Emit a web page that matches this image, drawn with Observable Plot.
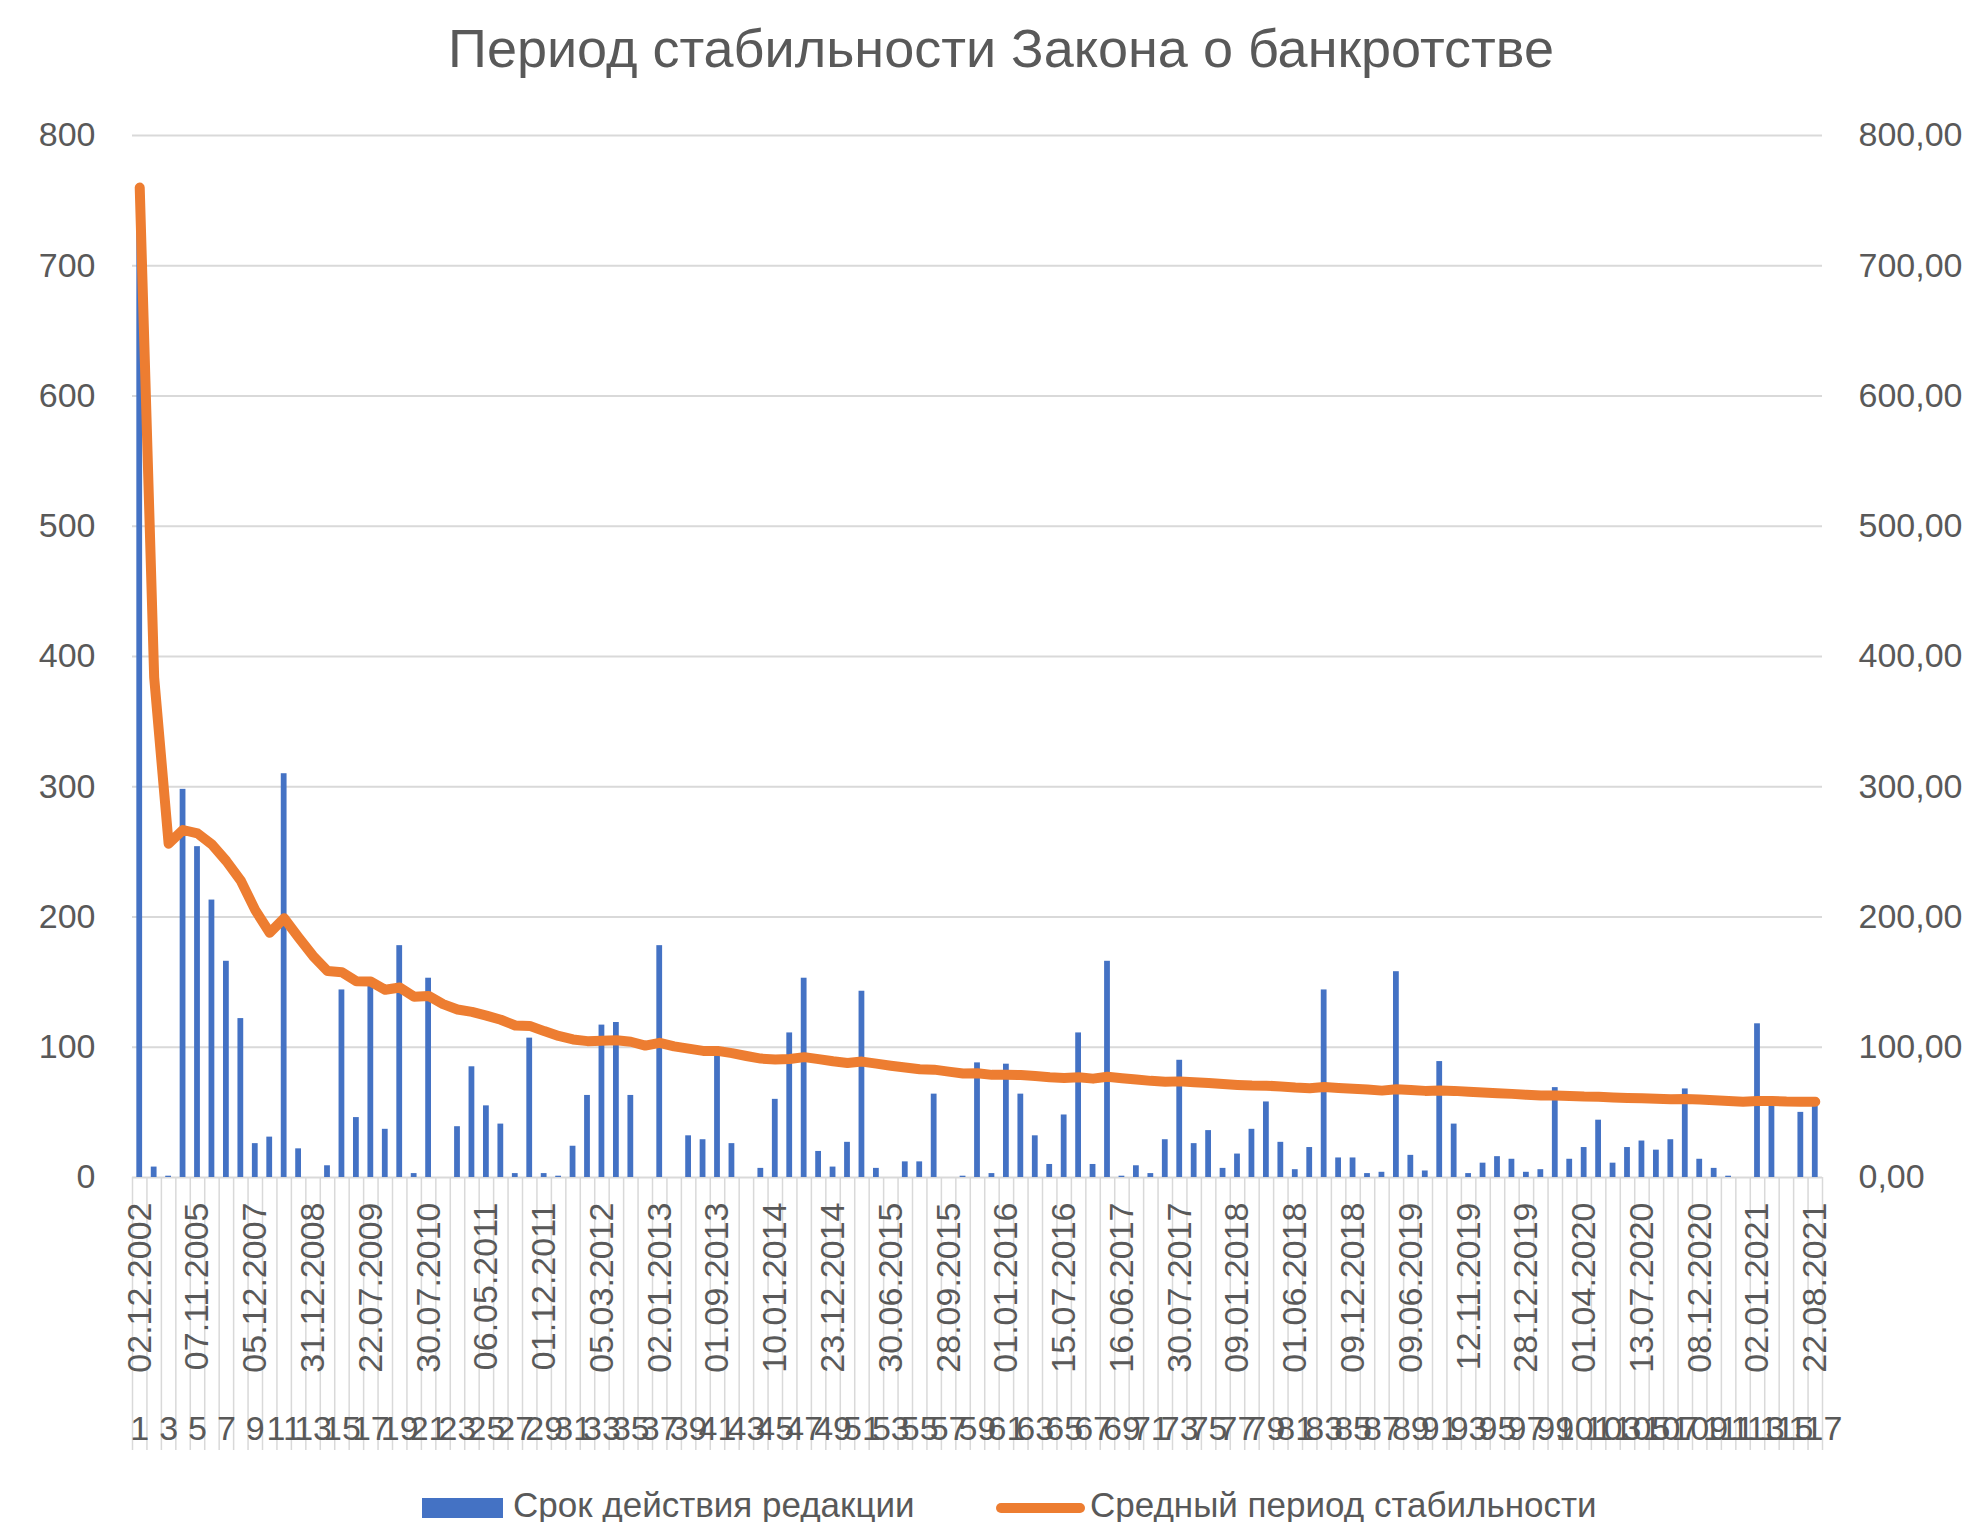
<!DOCTYPE html>
<html><head><meta charset="utf-8">
<script src="https://cdn.jsdelivr.net/npm/d3@7"></script>
<script src="https://cdn.jsdelivr.net/npm/@observablehq/plot@0.6"></script>
<style>
body{margin:0;background:#fff;}
#wrap{position:relative;width:1968px;height:1522px;overflow:hidden;font-family:"Liberation Sans",Arial,sans-serif;}
#chart,#overlay{position:absolute;left:0;top:0;}
</style></head><body>
<div id="wrap"><div id="chart"></div><svg id="overlay" width="1968" height="1522"></svg></div>
<script>
const title = "Период стабильности Закона о банкротстве";
const seriesNames = ["Срок действия редакции", "Средный период стабильности"];
const seriesColors = ["#4472C4", "#ED7D31"];
const categories = d3.range(1, 118);
const durations = [760,8,1,298,254,213,166,122,26,31,
310,22,0,9,144,46,147,37,178,3,
153,0,39,85,55,41,3,107,3,1,
24,63,117,119,63,0,178,0,32,29,
97,26,0,7,60,111,153,20,8,27,
143,7,0,12,12,64,0,1,88,3,
87,64,32,10,48,111,10,166,1,9,
3,29,90,26,36,7,18,37,58,27,
6,23,144,15,15,3,4,158,17,5,
89,41,3,11,16,14,4,6,69,14,
23,44,11,23,28,21,29,68,14,7,
1,0,118,60,0,50,60];
const averages = [760.0,384.0,256.3,266.8,264.2,255.7,242.9,227.8,205.3,187.9,
199.0,184.3,170.1,158.6,157.6,150.6,150.4,144.1,145.9,138.8,
139.4,133.1,129.0,127.2,124.3,121.1,116.7,116.4,112.4,108.7,
106.0,104.7,105.0,105.4,104.2,101.3,103.4,100.7,98.9,97.2,
97.2,95.5,93.3,91.3,90.6,91.0,92.4,90.9,89.2,87.9,
89.0,87.4,85.8,84.4,83.1,82.8,81.3,79.9,80.1,78.8,
78.9,78.7,77.9,76.9,76.4,76.9,75.9,77.3,76.2,75.2,
74.2,73.6,73.8,73.1,72.6,71.8,71.1,70.6,70.5,69.9,
69.1,68.6,69.5,68.8,68.2,67.5,66.7,67.8,67.2,66.5,
66.7,66.5,65.8,65.2,64.7,64.2,63.5,62.9,63.0,62.5,
62.1,62.0,61.5,61.1,60.8,60.4,60.1,60.2,59.8,59.3,
58.7,58.2,58.8,58.8,58.3,58.2,58.2];
const dateCategories = [1,5,9,13,17,21,25,29,33,37,41,45,49,53,57,61,65,69,73,77,81,85,89,93,97,101,105,109,113,117];
const dateLabels = ["02.12.2002","07.11.2005","05.12.2007","31.12.2008","22.07.2009","30.07.2010","06.05.2011","01.12.2011","05.03.2012","02.01.2013",
"01.09.2013","10.01.2014","23.12.2014","30.06.2015","28.09.2015","01.01.2016","15.07.2016","16.06.2017","30.07.2017","09.01.2018",
"01.06.2018","09.12.2018","09.06.2019","12.11.2019","28.12.2019","01.04.2020","13.07.2020","08.12.2020","02.01.2021","22.08.2021"];
const yTicks = [0,100,200,300,400,500,600,700,800];

const data = categories.map((c, k) => ({cat: c, duration: durations[k], avg: averages[k]}));
const dateMap = new Map(dateCategories.map((c, k) => [c, dateLabels[k]]));
const numberTicks = categories.filter(c => c % 2 === 1);
const boundaries = categories.map(c => c - 0.5).concat([categories[categories.length - 1] + 0.5]);
const textColor = "#595959";
const font = '"Liberation Sans", Arial, sans-serif';

const plot = Plot.plot({
  width: 1968, height: 1522,
  marginLeft: 132, marginRight: 146, marginTop: 135, marginBottom: 345,
  style: {fontFamily: font, color: textColor, background: "transparent", overflow: "visible"},
  x: {domain: [0.5, 117.5], label: null},
  y: {domain: [0, 800], label: null},
  marks: [
    Plot.gridY(yTicks, {stroke: "#d9d9d9", strokeOpacity: 1, strokeWidth: 2}),
    Plot.axisX(boundaries, {tickSize: 273, tickFormat: () => "", stroke: "#d9d9d9", strokeWidth: 1.5, strokeOpacity: 1, label: null}),
    Plot.rectY(data, {x1: d => d.cat - 0.2, x2: d => d.cat + 0.2, y: "duration", fill: seriesColors[0]}),
    Plot.line(data, {x: "cat", y: "avg", stroke: seriesColors[1], strokeWidth: 10, strokeLinecap: "round", strokeLinejoin: "round"}),
    Plot.axisY(yTicks, {anchor: "left", tickSize: 0, tickPadding: 37, fontSize: 34, label: null}),
    Plot.axisY(yTicks, {anchor: "right", tickSize: 0, tickPadding: 36, fontSize: 34, label: null, tickFormat: d => d.toFixed(2).replace(".", ",")}),
    Plot.axisX(dateCategories, {tickSize: 0, tickPadding: 25, tickRotate: -90, fontSize: 34, tickFormat: d => dateMap.get(d), label: null}),
    Plot.axisX(numberTicks, {tickSize: 0, tickPadding: 238, fontSize: 34, tickFormat: d => String(d), label: null})
  ]
});
document.getElementById("chart").appendChild(plot);

const ov = d3.select("#overlay").style("font-family", font);
ov.append("text").attr("x", 1001).attr("y", 67).attr("text-anchor", "middle")
  .attr("font-size", 54).attr("fill", textColor).text(title);
ov.append("rect").attr("x", 422).attr("y", 1498).attr("width", 81).attr("height", 20).attr("fill", seriesColors[0]);
ov.append("text").attr("x", 513).attr("y", 1517).attr("font-size", 35).attr("fill", textColor).text(seriesNames[0]);
ov.append("line").attr("x1", 1001).attr("x2", 1080).attr("y1", 1508).attr("y2", 1508)
  .attr("stroke", seriesColors[1]).attr("stroke-width", 10).attr("stroke-linecap", "round");
ov.append("text").attr("x", 1090).attr("y", 1517).attr("font-size", 35).attr("fill", textColor).text(seriesNames[1]);
</script>
</body></html>
